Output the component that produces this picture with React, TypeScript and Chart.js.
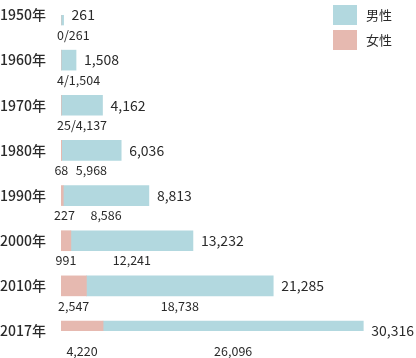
import React, { useEffect, useRef } from "react";
import { Chart, registerables } from "chart.js";

Chart.register(...registerables);

const years = ["1950年", "1960年", "1970年", "1980年", "1990年", "2000年", "2010年", "2017年"];
const female = [0, 4, 25, 68, 227, 991, 2547, 4220];
const male = [261, 1504, 4137, 5968, 8586, 12241, 18738, 26096];
const totals = [261, 1508, 4162, 6036, 8813, 13232, 21285, 30316];
const combinedCount = 3; // first three years show "female/male" in one label

const MALE_COLOR = "#b2d8df";
const FEMALE_COLOR = "#e6b9b0";
const TEXT = "#2a2a2a";
const FONT = '"Noto Sans CJK JP", "Noto Sans", sans-serif';

const fmt = (n: number) => n.toLocaleString("en-US");

const labelsPlugin = {
  id: "labelsPlugin",
  afterDatasetsDraw(chart: any) {
    const ctx = chart.ctx;
    const xs = chart.scales.x;
    const ys = chart.scales.y;
    ctx.save();
    ctx.fillStyle = TEXT;
    ctx.textBaseline = "middle";
    years.forEach((yr, i) => {
      const yc = ys.getPixelForValue(i);
      const x0 = xs.getPixelForValue(0);
      const xf = xs.getPixelForValue(female[i]);
      const xt = xs.getPixelForValue(totals[i]);
      // year label
      ctx.font = `500 14px ${FONT}`;
      ctx.textAlign = "left";
      ctx.fillText(yr, 0, yc);
      // total label
      ctx.font = `400 14px ${FONT}`;
      ctx.fillText(fmt(totals[i]), xt + 8, yc);
      // sub labels
      ctx.font = `400 12.5px ${FONT}`;
      const ys2 = yc + 20;
      if (i < combinedCount) {
        const txt = `${fmt(female[i])}/${fmt(male[i])}`;
        const w = ctx.measureText(txt).width;
        const c = Math.max((x0 + xt) / 2, x0 - 4 + w / 2);
        ctx.textAlign = "center";
        ctx.fillText(txt, c, ys2);
      } else {
        ctx.textAlign = "center";
        const t1 = fmt(female[i]);
        const w1 = ctx.measureText(t1).width;
        const c1 = Math.max((x0 + xf) / 2, x0 - 7 + w1 / 2);
        ctx.fillText(t1, c1, ys2);
        ctx.fillText(fmt(male[i]), (xf + xt) / 2, ys2);
      }
    });
    // legend
    const items = [
      { label: "男性", color: MALE_COLOR },
      { label: "女性", color: FEMALE_COLOR },
    ];
    items.forEach((it, k) => {
      const top = 5 + k * 25;
      ctx.fillStyle = it.color;
      ctx.fillRect(333, top, 24, 20);
      ctx.fillStyle = TEXT;
      ctx.font = `400 13px ${FONT}`;
      ctx.textAlign = "left";
      ctx.fillText(it.label, 366, top + 10);
    });
    ctx.restore();
  },
};

export default function App() {
  const ref = useRef<HTMLCanvasElement>(null);
  useEffect(() => {
    document.body.style.margin = "0";
    const chart = new Chart(ref.current!, {
      type: "bar",
      data: {
        labels: years,
        datasets: [
          { label: "女性", data: female, backgroundColor: FEMALE_COLOR, barThickness: 20 },
          { label: "男性", data: male, backgroundColor: MALE_COLOR, barThickness: 20 },
        ],
      },
      options: {
        indexAxis: "y",
        animation: false,
        responsive: false,
        layout: { padding: { left: 61, right: 6, top: 15, bottom: 27 } },
        scales: {
          x: { stacked: true, min: 0, max: 35000, display: false },
          y: { stacked: true, display: false, offset: false },
        },
        plugins: { legend: { display: false }, tooltip: { enabled: false } },
      },
      plugins: [labelsPlugin],
    });
    return () => chart.destroy();
  }, []);
  return (
    <div style={{ width: 416, height: 358, background: "#fff" }}>
      <canvas ref={ref} width={416} height={358} />
    </div>
  );
}
